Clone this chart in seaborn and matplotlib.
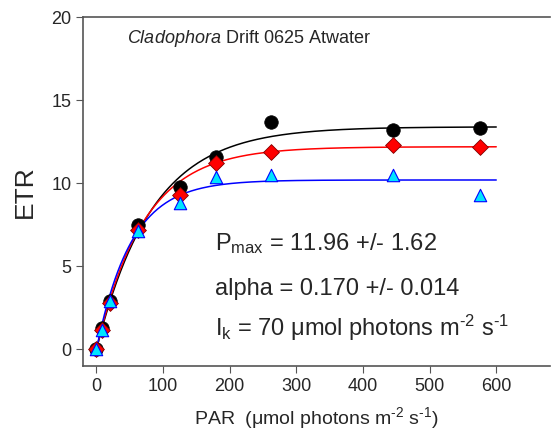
import numpy as np
import pandas as pd
import matplotlib
matplotlib.use('Agg')
import matplotlib.pyplot as plt
import seaborn as sns

par = [0, 8, 20, 62, 125, 180, 262, 445, 575]
etr_black = [0.0, 1.3, 2.9, 7.5, 9.8, 11.6, 13.7, 13.2, 13.3]
etr_red = [0.0, 1.2, 2.8, 7.2, 9.3, 11.2, 11.9, 12.3, 12.2]
etr_blue = [0.0, 1.2, 2.9, 7.1, 8.8, 10.4, 10.5, 10.5, 9.3]

# fitted curve parameters (Pmax, alpha)
fit_pmax = [13.4, 12.2, 10.2]
fit_alpha = [0.160, 0.172, 0.196]
fit_colors = ['black', 'red', 'blue']

sns.set_style('ticks')
plt.rcParams['font.family'] = ['Liberation Sans', 'DejaVu Sans']
plt.rcParams['mathtext.fontset'] = 'custom'
plt.rcParams['mathtext.rm'] = 'Liberation Sans'
plt.rcParams['mathtext.it'] = 'Liberation Sans:italic'

fig = plt.figure(figsize=(5.54, 4.4), dpi=100)
ax = fig.add_axes([0.150, 0.168, 0.842, 0.793])

xs = np.linspace(0, 600, 300)
for pm, a, c in zip(fit_pmax, fit_alpha, fit_colors):
    curve = pd.DataFrame({'x': xs, 'y': pm * (1 - np.exp(-a * xs / pm))})
    sns.lineplot(data=curve, x='x', y='y', color=c, lw=1.1, ax=ax)

pts = pd.DataFrame({'par': par, 'black': etr_black, 'red': etr_red, 'blue': etr_blue})
sns.scatterplot(data=pts, x='par', y='black', marker='o', s=95, color='black',
                edgecolor='black', linewidth=0.5, ax=ax, zorder=3)
sns.scatterplot(data=pts, x='par', y='red', marker='D', s=65, color='red',
                edgecolor='#800000', linewidth=0.6, ax=ax, zorder=4)
sns.scatterplot(data=pts, x='par', y='blue', marker='^', s=80, color='#00e5ff',
                edgecolor='blue', linewidth=0.8, ax=ax, zorder=5)

ax.set_xlim(-20, 680)
ax.set_ylim(-1, 20)
ax.set_xticks([0, 100, 200, 300, 400, 500, 600])
ax.set_yticks([0, 5, 10, 15, 20])
ax.tick_params(labelsize=13, length=5, width=0.8, color='#555555', direction='out')
for s in ['left', 'bottom', 'top']:
    ax.spines[s].set_color('#555555')
    ax.spines[s].set_linewidth(1.2)
ax.spines['right'].set_visible(False)

ax.set_ylabel('ETR', fontsize=19, labelpad=10)
ax.set_xlabel('PAR  (μmol photons m$^{\\text{-2}}$ s$^{\\text{-1}}$)', fontsize=14, labelpad=7)

ax.text(0.095, 0.94, '$\\it{Cladophora}$ Drift 0625 Atwater', transform=ax.transAxes,
        fontsize=13, va='center')
ax.text(0.283, 0.35, 'P$_{\\rm max}$ = 11.96 +/- 1.62', transform=ax.transAxes,
        fontsize=17, va='center')
ax.text(0.283, 0.22, 'alpha = 0.170 +/- 0.014', transform=ax.transAxes,
        fontsize=17, va='center')
ax.text(0.283, 0.11, 'I$_{\\rm k}$ = 70 μmol photons m$^{\\text{-2}}$ s$^{\\text{-1}}$',
        transform=ax.transAxes, fontsize=17, va='center')

fig.savefig('out.png', dpi=100)
